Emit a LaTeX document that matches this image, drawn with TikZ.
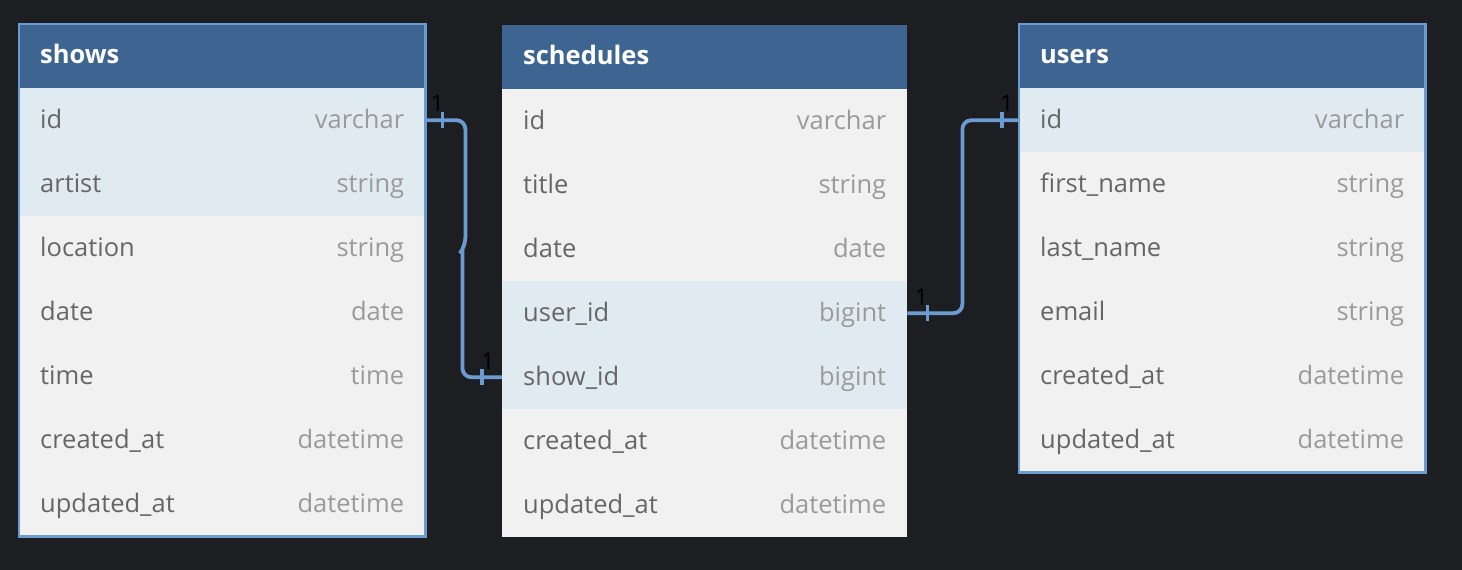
\documentclass[tikz,border=0pt]{standalone}
\usepackage{fontspec}
\setmainfont{Open Sans}
\usetikzlibrary{positioning}
\definecolor{bgdark}{HTML}{1C1E22}
\definecolor{headblue}{HTML}{3E6591}
\definecolor{rowgray}{HTML}{F1F1F1}
\definecolor{rowblue}{HTML}{E0EAF1}
\definecolor{linkblue}{HTML}{6B9BD0}
\definecolor{fieldtxt}{HTML}{666666}
\definecolor{typetxt}{HTML}{9A9A9A}
\tikzset{
  head/.style={anchor=north west,fill=headblue,text=white,minimum height=64pt,
    inner xsep=21pt,inner ysep=0pt,align=left,text height=18pt,text depth=4pt,
    font=\fontsize{25.5}{29}\selectfont\bfseries},
  row/.style={anchor=north west,minimum height=64pt,inner xsep=21pt,inner ysep=0pt,
    align=left,text=fieldtxt,text height=21pt,text depth=4pt,
    font=\fontsize{25.5}{29}\selectfont},
  type/.style={anchor=east,inner xsep=21pt,text=typetxt,text height=21pt,text depth=4pt,
    font=\fontsize{25.5}{29}\selectfont},
  selbox/.style={draw=linkblue,line width=2.5pt},
  rel/.style={draw=linkblue,line width=3.8pt,rounded corners=9pt},
  tick/.style={draw=linkblue,line width=3.8pt},
  card/.style={text=black,inner sep=0pt,font=\fontsize{23}{25}\selectfont}
}
\begin{document}
\begin{tikzpicture}[x=1pt,y=-1pt]
 \fill[bgdark] (0,0) rectangle (1462,570);
 \useasboundingbox (0,0) rectangle (1462,570);
 % shows
 \node[head,text width=364pt] (shows) at (19,24) {shows};
 \foreach \name/\type/\bg [count=\i from 0] in {id/varchar/rowblue,artist/string/rowblue,
   location/string/rowgray,date/date/rowgray,time/time/rowgray,
   created\_at/datetime/rowgray,updated\_at/datetime/rowgray} {
   \node[row,fill=\bg,text width=364pt] (shows-\i) at (19,{88+64*\i}) {\name};
   \node[type] at (shows-\i.east) {\type};
 }
 \draw[selbox] (shows.north west) rectangle (shows-6.south east);
 % schedules
 \node[head,text width=363pt] (sched) at (502,25) {schedules};
 \foreach \name/\type/\bg [count=\i from 0] in {id/varchar/rowgray,title/string/rowgray,
   date/date/rowgray,user\_id/bigint/rowblue,show\_id/bigint/rowblue,
   created\_at/datetime/rowgray,updated\_at/datetime/rowgray} {
   \node[row,fill=\bg,text width=363pt] (sched-\i) at (502,{89+64*\i}) {\name};
   \node[type] at (sched-\i.east) {\type};
 }
 % users
 \node[head,text width=364pt] (users) at (1019,24) {users};
 \foreach \name/\type/\bg [count=\i from 0] in {id/varchar/rowblue,first\_name/string/rowgray,
   last\_name/string/rowgray,email/string/rowgray,
   created\_at/datetime/rowgray,updated\_at/datetime/rowgray} {
   \node[row,fill=\bg,text width=364pt] (users-\i) at (1019,{88+64*\i}) {\name};
   \node[type] at (users-\i.east) {\type};
 }
 \draw[selbox] (users.north west) rectangle (users-5.south east);
 % relations
 \draw[rel] (shows-0.east) -- ++(40,0) -- ++(0,126) [sharp corners] -- ++(-3,4)
   [rounded corners=9pt] |- (sched-4.west);
 \draw[tick] ([xshift=17pt,yshift=8pt]shows-0.east) -- ++(0,16);
 \draw[tick] ([xshift=-20pt,yshift=8pt]sched-4.west) -- ++(0,16);
 \node[card] at ([xshift=12pt,yshift=17pt]shows-0.east) {1};
 \node[card] at ([xshift=-14pt,yshift=16pt]sched-4.west) {1};
 \draw[rel] (sched-3.east) -- ++(55,0) |- (users-0.west);
 \draw[tick] ([xshift=20pt,yshift=8pt]sched-3.east) -- ++(0,16);
 \draw[tick] ([xshift=-17pt,yshift=8pt]users-0.west) -- ++(0,16);
 \node[card] at ([xshift=14pt,yshift=16pt]sched-3.east) {1};
 \node[card] at ([xshift=-12pt,yshift=17pt]users-0.west) {1};
\end{tikzpicture}
\end{document}
